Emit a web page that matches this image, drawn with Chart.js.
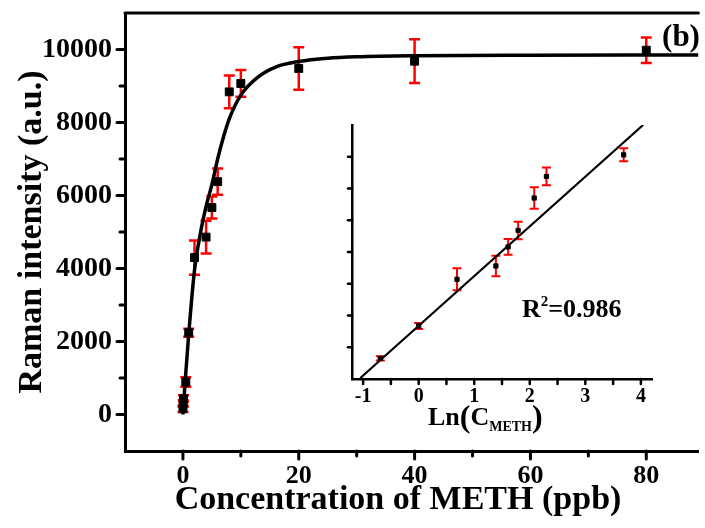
<!DOCTYPE html>
<html>
<head>
<meta charset="utf-8">
<script src="https://cdn.jsdelivr.net/npm/chart.js@4.4.1/dist/chart.umd.min.js"></script>
<style>
  html, body { margin: 0; padding: 0; background: #fff; overflow: hidden; }
  #wrap { position: relative; width: 705px; height: 528px; overflow: hidden; background: #fff; }
  #mainChart { position: absolute; left: 0; top: 0; }
  #insetChart { position: absolute; left: 330px; top: 115px; }
</style>
</head>
<body>
<div id="wrap">
  <canvas id="mainChart" width="705" height="528"></canvas>
  <canvas id="insetChart" width="340" height="330"></canvas>
</div>
<script>
// --- main plot: Raman intensity vs METH concentration ---
const concPpb      = [0.01, 0.05, 0.1, 0.5, 1, 2, 4, 5, 6, 8, 10, 20, 40, 80];
const intensity    = [160, 300, 440, 890, 2240, 4300, 4860, 5670, 6380, 8840, 9070, 9480, 9680, 9980];
const intensityErr = [90, 90, 90, 130, 110, 470, 450, 300, 360, 450, 365, 580, 600, 350];

// fitted curve
const fitConc      = [0, 0.5, 1, 2, 3, 4, 5, 6, 7, 8, 10, 13, 16, 20, 25, 30, 40, 60, 89];
const fitIntensity = [0, 1150, 2200, 3950, 4950, 5700, 6300, 7000, 7600, 8100, 8750, 9250, 9520, 9670, 9760, 9800, 9830, 9845, 9850];

const xMajor = [0, 20, 40, 60, 80];
const xMinor = [10, 30, 50, 70];
const yMajor = [0, 2000, 4000, 6000, 8000, 10000];
const yMinor = [1000, 3000, 5000, 7000, 9000];

// --- inset: linear fit vs Ln(C) ---
const lnConc      = [-0.69, 0, 0.69, 1.39, 1.61, 1.79, 2.08, 2.30, 3.69];
const lnIntensity = [650, 1670, 3140, 3560, 4160, 4680, 5700, 6380, 7060];
const lnErr       = [65, 95, 345, 325, 250, 275, 340, 280, 205];
const lnFitX = [-1.05, 4.04];
const lnFitY = [30, 8000];

const insetXMajor = [-1, 0, 1, 2, 3, 4];
const insetXMinor = [-0.5, 0.5, 1.5, 2.5, 3.5];
const insetYMinor = [1000, 2000, 3000, 4000, 5000, 6000, 7000];

const FONT = "'Liberation Serif', 'Times New Roman', serif";
const RED = '#ff0000';

function toPoints(xs, ys) {
  return xs.map((x, i) => ({ x: x, y: ys[i] }));
}

// keep the plot area exactly where the axes are fixed, no label overflow padding
function noPad(s) {
  s.paddingTop = 0; s.paddingBottom = 0;
  s.paddingLeft = 0; s.paddingRight = 0;
}

function drawErrorBars(ctx, xs, ys, xv, yv, ev, cap, lw) {
  ctx.save();
  ctx.strokeStyle = RED;
  ctx.lineWidth = lw;
  xv.forEach((v, i) => {
    const px = xs.getPixelForValue(v);
    const top = ys.getPixelForValue(yv[i] + ev[i]);
    const bot = ys.getPixelForValue(yv[i] - ev[i]);
    ctx.beginPath();
    ctx.moveTo(px, top); ctx.lineTo(px, bot);
    ctx.moveTo(px - cap, top); ctx.lineTo(px + cap, top);
    ctx.moveTo(px - cap, bot); ctx.lineTo(px + cap, bot);
    ctx.stroke();
  });
  ctx.restore();
}

function tick(ctx, x1, y1, x2, y2) {
  ctx.beginPath(); ctx.moveTo(x1, y1); ctx.lineTo(x2, y2); ctx.stroke();
}

// draws a row of text pieces with their own size / vertical shift (sub & superscripts)
function drawRuns(ctx, x, baseline, runs) {
  ctx.textAlign = 'left';
  ctx.textBaseline = 'alphabetic';
  runs.forEach(r => {
    ctx.font = 'bold ' + r.size + 'px ' + FONT;
    ctx.fillText(r.text, x, baseline + (r.dy || 0));
    x += ctx.measureText(r.text).width;
  });
}

const mainDecor = {
  id: 'mainDecor',
  beforeDatasetsDraw(chart) {
    const { ctx, scales: { x, y } } = chart;
    drawErrorBars(ctx, x, y, concPpb, intensity, intensityErr, 5.5, 2.5);
  },
  afterDraw(chart) {
    const { ctx, chartArea: a, scales: { x, y } } = chart;
    ctx.save();
    ctx.strokeStyle = '#000';
    ctx.lineWidth = 3;
    ctx.lineCap = 'round';
    tick(ctx, a.left, a.top, a.right, a.top);  // top frame line
    xMajor.forEach(v => { const p = x.getPixelForValue(v); tick(ctx, p, a.bottom, p, a.bottom + 8); });
    xMinor.forEach(v => { const p = x.getPixelForValue(v); tick(ctx, p, a.bottom, p, a.bottom + 5); });
    yMajor.forEach(v => { const p = y.getPixelForValue(v); tick(ctx, a.left, p, a.left - 8, p); });
    yMinor.forEach(v => { const p = y.getPixelForValue(v); tick(ctx, a.left, p, a.left - 5, p); });

    ctx.fillStyle = '#000';
    ctx.textAlign = 'center';
    ctx.textBaseline = 'middle';
    ctx.font = 'bold 34px ' + FONT;
    ctx.fillText('Concentration of METH (ppb)', 398, 500);
    ctx.font = 'bold 31px ' + FONT;
    ctx.fillText('(b)', 681, 38);
    ctx.restore();
  }
};

new Chart(document.getElementById('mainChart'), {
  data: {
    datasets: [
      {
        type: 'line',
        label: 'fit',
        data: toPoints(fitConc, fitIntensity),
        borderColor: '#000',
        borderWidth: 3.5,
        pointRadius: 0,
        cubicInterpolationMode: 'monotone',
        fill: false,
        order: 2
      },
      {
        type: 'scatter',
        label: 'Raman intensity',
        data: toPoints(concPpb, intensity),
        pointStyle: 'rect',
        pointRadius: 5.6,
        backgroundColor: '#000',
        borderColor: '#000',
        borderWidth: 1,
        order: 1
      }
    ]
  },
  options: {
    responsive: false,
    animation: false,
    devicePixelRatio: 1,
    layout: { padding: { top: 13, right: -7, bottom: 0, left: 0 } },
    plugins: { legend: { display: false }, tooltip: { enabled: false } },
    scales: {
      x: {
        type: 'linear',
        min: -10,
        max: 89,
        afterBuildTicks: s => { s.ticks = xMajor.map(v => ({ value: v })); },
        afterFit: s => { s.height = 77; noPad(s); },
        grid: { display: false, drawTicks: false },
        border: { display: true, color: '#000', width: 3 },
        ticks: {
          color: '#000',
          font: { family: FONT, size: 26, weight: 'bold' },
          padding: 10,
          maxRotation: 0,
          autoSkip: false,
          callback: v => String(v)
        }
      },
      y: {
        type: 'linear',
        min: -1000,
        max: 11000,
        afterBuildTicks: s => { s.ticks = yMajor.map(v => ({ value: v })); },
        afterFit: s => { s.width = 125; noPad(s); },
        grid: { display: false, drawTicks: false },
        border: { display: true, color: '#000', width: 3 },
        ticks: {
          color: '#000',
          font: { family: FONT, size: 28, weight: 'bold' },
          padding: 13,
          callback: v => String(v)
        },
        title: {
          display: true,
          text: 'Raman intensity (a.u.)',
          color: '#000',
          font: { family: FONT, size: 34, weight: 'bold' },
          padding: 12
        }
      }
    }
  },
  plugins: [mainDecor]
});

const insetDecor = {
  id: 'insetDecor',
  beforeDatasetsDraw(chart) {
    const { ctx, scales: { x, y } } = chart;
    drawErrorBars(ctx, x, y, lnConc, lnIntensity, lnErr, 4.5, 2);
  },
  afterDraw(chart) {
    const { ctx, chartArea: a, scales: { x, y } } = chart;
    ctx.save();
    ctx.strokeStyle = '#000';
    ctx.lineWidth = 2.5;
    ctx.lineCap = 'round';
    insetXMajor.concat(insetXMinor).forEach(v => {
      const p = x.getPixelForValue(v);
      tick(ctx, p, a.bottom, p, a.bottom + 5);
    });
    insetYMinor.forEach(v => {
      const p = y.getPixelForValue(v);
      tick(ctx, a.left, p, a.left - 4, p);
    });
    ctx.fillStyle = '#000';
    // Ln(C_METH) axis label; page coords minus canvas offset (330, 115)
    drawRuns(ctx, 428 - 330, 425 - 115, [
      { text: 'Ln', size: 26 },
      { text: '(', size: 32, dy: 2 },
      { text: 'C', size: 26 },
      { text: 'METH', size: 14, dy: 6 },
      { text: ')', size: 32, dy: 2 }
    ]);
    drawRuns(ctx, 522 - 330, 317 - 115, [
      { text: 'R', size: 26 },
      { text: '2', size: 15, dy: -11 },
      { text: '=0.986', size: 26 }
    ]);
    ctx.restore();
  }
};

new Chart(document.getElementById('insetChart'), {
  data: {
    datasets: [
      {
        type: 'line',
        label: 'linear fit',
        data: toPoints(lnFitX, lnFitY),
        borderColor: '#000',
        borderWidth: 2.2,
        pointRadius: 0,
        fill: false,
        order: 2
      },
      {
        type: 'scatter',
        label: 'ln data',
        data: toPoints(lnConc, lnIntensity),
        pointStyle: 'rect',
        pointRadius: 3,
        backgroundColor: '#000',
        borderColor: '#000',
        borderWidth: 1,
        order: 1
      }
    ]
  },
  options: {
    responsive: false,
    animation: false,
    devicePixelRatio: 1,
    layout: { padding: { top: 10, right: 18, bottom: 0, left: 0 } },
    plugins: { legend: { display: false }, tooltip: { enabled: false } },
    scales: {
      x: {
        type: 'linear',
        min: -1.2,
        max: 4.2,
        afterBuildTicks: s => { s.ticks = insetXMajor.map(v => ({ value: v })); },
        afterFit: s => { s.height = 66; noPad(s); },
        grid: { display: false, drawTicks: false },
        border: { display: true, color: '#000', width: 2.5 },
        ticks: {
          color: '#000',
          font: { family: FONT, size: 20, weight: 'bold' },
          padding: 6,
          maxRotation: 0,
          autoSkip: false,
          callback: v => String(v)
        }
      },
      y: {
        type: 'linear',
        min: 0,
        max: 8000,
        afterFit: s => { s.width = 22; noPad(s); },
        grid: { display: false, drawTicks: false },
        border: { display: true, color: '#000', width: 2.5 },
        ticks: { display: false }
      }
    }
  },
  plugins: [insetDecor]
});
</script>
</body>
</html>
